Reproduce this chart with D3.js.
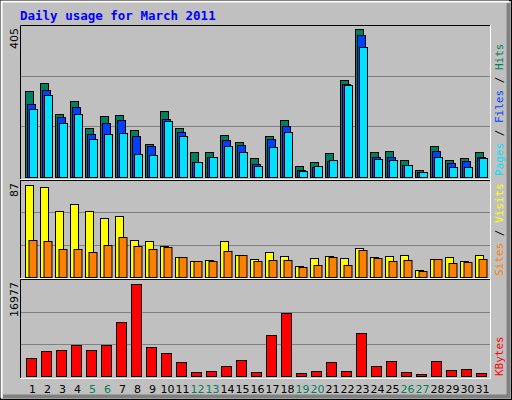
<!DOCTYPE html>
<html><head><meta charset="utf-8">
<script src="https://cdn.jsdelivr.net/npm/d3@7"></script>
<style>body{margin:0;background:#fff}</style></head>
<body><svg id="c" width="512" height="400"></svg>
<script>
const days = d3.range(1, 32);
const weekends = [5, 6, 12, 13, 19, 20, 26, 27];
const hits  = [229,250,167,202,130,162,164,124,87,175,129,65,65,111,92,49,108,151,28,38,63,258,394,65,68,44,17,81,44,49,65];
const files = [194,232,160,186,113,143,151,108,81,154,119,38,54,97,84,33,100,135,17,26,41,247,378,54,54,30,12,68,36,41,52];
const pages = [180,218,143,167,100,113,116,60,57,148,108,38,52,81,65,28,79,119,14,28,44,244,346,47,44,30,12,52,25,25,49];
const visits = [83,81,59,66,59,53,55,33,32,28,18,14,15,32,20,16,22,19,10,17,19,17,26,18,19,20,6,16,18,14,20];
const sites  = [33,32,25,25,22,29,36,28,25,27,18,14,14,23,20,14,15,15,9,11,18,11,24,17,14,15,5,16,12,13,16];
const kbytes = [3232,4532,4718,5647,4718,5647,9919,16977,5275,4161,2489,632,817,1746,2860,632,7504,11590,446,817,2489,817,7875,1746,2675,632,260,2675,1003,1189,446];
const maxLabels = ["405", "87", "16977"];

const svg = d3.select("#c");
const mono = "DejaVu Sans Mono, monospace";
// background & bevel
svg.append("rect").attr("x",0).attr("y",0).attr("width",512).attr("height",400).attr("fill","#c0c0c0");
svg.append("rect").attr("x",0.5).attr("y",0.5).attr("width",511).attr("height",399).attr("fill","none").attr("stroke","#000");
svg.append("path").attr("d","M1.5,398V1.5H509").attr("stroke","#fff").attr("stroke-width",2).attr("fill","none");
svg.append("path").attr("d","M3,396.5H508.5V3").attr("stroke","#808080").attr("stroke-width",4).attr("fill","none");

svg.append("text").attr("x",20).attr("y",20).attr("font-family",mono).attr("font-weight","bold")
  .attr("font-size",12.5).attr("fill","#0000ff").text("Daily usage for March 2011");

const x = d3.scaleBand().domain(days).range([25, 490]).paddingInner(0).paddingOuter(0);
const x0 = d => 25 + (d - 1) * 15;

const panels = [
  {top:25, bottom:180, base:176.7, ymax:25.3, max:405},
  {top:180, bottom:279, base:276.7, ymax:180.3, max:87},
  {top:279, bottom:379, base:375.7, ymax:284.3, max:16977}
];
panels.forEach((p,i) => {
  p.y = d3.scaleLinear().domain([0,p.max]).range([p.base,p.ymax]);
  svg.append("rect").attr("x",20).attr("y",p.top).attr("width",471).attr("height",p.bottom-p.top).attr("fill","#c0c0c0");
  [1/3,2/3].forEach(f => {
    const yy = Math.round(p.base - (p.base - (i==2?280.3:p.ymax))*f) + 0.5;
    svg.append("line").attr("x1",21).attr("x2",490).attr("y1",yy).attr("y2",yy).attr("stroke","#808080");
  });
  svg.append("path").attr("d",`M20.5,${p.bottom}V${p.top+0.5}H491`).attr("stroke","#000").attr("fill","none");
  svg.append("path").attr("d",`M20,${p.bottom-0.5}H490.5V${p.top}`).attr("stroke","#fff").attr("fill","none");
  svg.append("text").attr("transform",`translate(18,${p.top+3}) rotate(-90)`).attr("text-anchor","end")
    .attr("font-family","DejaVu Sans, sans-serif").attr("font-size",11).attr("fill","#000").text(maxLabels[i]);
});

function bars(data, p, off, w, color) {
  svg.append("g").selectAll("rect").data(data).join("rect")
    .attr("x", (v,i) => x0(days[i]) + off + 0.5)
    .attr("y", v => Math.round(p.y(v)) + 0.5)
    .attr("width", w)
    .attr("height", v => Math.max(0, Math.round(p.base) - Math.round(p.y(v))))
    .attr("fill", color).attr("stroke", "#000");
}
bars(hits, panels[0], 0, 8, "#00805c");
bars(files, panels[0], 2, 8, "#0040ff");
bars(pages, panels[0], 4, 8, "#00e0ff");
bars(visits, panels[1], 0, 8, "#ffff00");
bars(sites, panels[1], 3.5, 8, "#ff8000");
bars(kbytes, panels[2], 1, 10, "#ff0000");

svg.append("g").selectAll("text").data(days).join("text")
  .attr("x", d => x0(d) + 7.5).attr("y", 393).attr("text-anchor","middle")
  .attr("font-family","DejaVu Sans, sans-serif").attr("font-size",11)
  .attr("fill", d => weekends.includes(d) ? "#00805c" : "#000").text(d => d);

function sideLabel(yBottom, parts) {
  const t = svg.append("text").attr("transform",`translate(503,${yBottom}) rotate(-90)`)
    .attr("font-family",mono).attr("font-size",11);
  parts.forEach(([s,c]) => t.append("tspan").attr("fill",c).text(s));
}
sideLabel(176, [["Pages","#00e0ff"],[" / ","#000"],["Files","#0040ff"],[" / ","#000"],["Hits","#00805c"]]);
sideLabel(276, [["Sites","#ff8000"],[" / ","#000"],["Visits","#ffff00"]]);
sideLabel(376, [["KBytes","#ff0000"]]);
</script></body></html>
